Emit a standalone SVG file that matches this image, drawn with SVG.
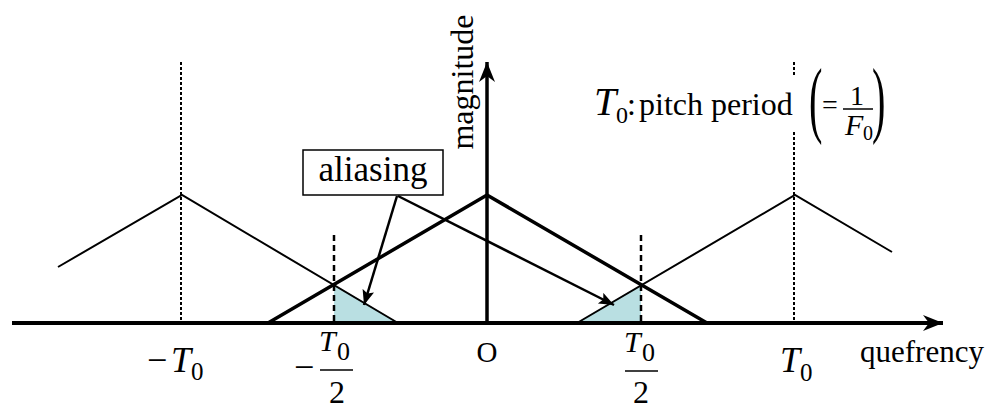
<svg xmlns="http://www.w3.org/2000/svg" width="990" height="408" viewBox="0 0 990 408">
<style>
.thin{fill:none;stroke:#000;stroke-width:2}
.thick{fill:none;stroke:#000;stroke-width:3.5}
.dot{stroke:#000;stroke-width:2;stroke-dasharray:3 2}
.dash{stroke:#000;stroke-width:2.5;stroke-dasharray:6 4}
.shade{fill:#b9dfe2}
.t{font-family:"Liberation Serif","Times New Roman",serif;fill:#000}
.i{font-style:italic}
.ptr{stroke:#000;stroke-width:2.5;fill:none}
</style>
<defs>
<marker id="ax" markerUnits="userSpaceOnUse" markerWidth="24" markerHeight="20" refX="20" refY="8" orient="auto">
<path d="M0,0 L20,8 L0,16 L6,8 Z" fill="#000"/>
</marker>
<marker id="ah" markerUnits="userSpaceOnUse" markerWidth="18" markerHeight="14" refX="15" refY="6" orient="auto">
<path d="M0,0 L15,6 L0,12 L3,6 Z" fill="#000"/>
</marker>
</defs>
<rect width="990" height="408" fill="#fff"/>

<g id="aliasing-regions">
<polygon class="shade" points="334,285 398,323 334,323"/>
<polygon class="shade" points="641,285 577,323 641,323"/>
</g>

<g id="guides">
<line class="dot" x1="181" y1="62" x2="181" y2="323"/>
<line class="dot" x1="794" y1="62" x2="794" y2="323"/>
<line class="dash" x1="334" y1="235" x2="334" y2="323"/>
<line class="dash" x1="641" y1="235" x2="641" y2="323"/>
</g>

<g id="spectrum-left">
<polyline class="thin" points="58,267 182,195 398,323"/>
</g>
<g id="spectrum-center">
<polyline class="thick" points="268,323 487,195 707,323"/>
</g>
<g id="spectrum-right">
<polyline class="thin" points="577,323 795,195 892,252"/>
</g>

<g id="axes">
<line x1="12" y1="323" x2="943" y2="323" stroke="#000" stroke-width="4" marker-end="url(#ax)"/>
<line x1="487" y1="323" x2="487" y2="62" stroke="#000" stroke-width="3.5" marker-end="url(#ax)"/>
<text class="t" font-size="32" transform="translate(473,82) rotate(-90)" text-anchor="middle">magnitude</text>
<text class="t" font-size="31" x="860" y="362">quefrency</text>
<text class="t" font-size="29" x="487" y="362" text-anchor="middle">O</text>
</g>

<g id="label-minus-T0">
<text class="t" font-size="36" x="147" y="372">−</text>
<text class="t i" font-size="36" x="171" y="372">T</text>
<text class="t" font-size="25" x="191" y="380">0</text>
</g>
<g id="label-minus-half-T0">
<text class="t" font-size="36" x="294" y="379">−</text>
<text class="t i" font-size="30" x="319" y="351">T</text>
<text class="t" font-size="26" x="337" y="360">0</text>
<line x1="320" y1="370" x2="353" y2="370" stroke="#000" stroke-width="1.6"/>
<text class="t" font-size="32" x="337" y="403" text-anchor="middle">2</text>
</g>
<g id="label-half-T0">
<text class="t i" font-size="30" x="624" y="352">T</text>
<text class="t" font-size="26" x="642" y="361">0</text>
<line x1="625" y1="371" x2="658" y2="371" stroke="#000" stroke-width="1.6"/>
<text class="t" font-size="32" x="641" y="403" text-anchor="middle">2</text>
</g>
<g id="label-T0">
<text class="t i" font-size="36" x="780" y="372">T</text>
<text class="t" font-size="25" x="800" y="381">0</text>
</g>

<g id="legend">
<rect x="588" y="77" width="310" height="54" fill="#fff"/>
<text class="t i" font-size="40" x="594" y="115">T</text>
<text class="t" font-size="24" x="616" y="123">0</text>
<text class="t" font-size="32" x="627" y="115">:</text>
<text class="t" font-size="32" x="639" y="115">pitch period</text>
<text class="t" font-size="84" transform="translate(809,127) scale(0.48,1)">(</text>
<text class="t" font-size="28" x="822" y="114">=</text>
<text class="t" font-size="28" x="857" y="105" text-anchor="middle">1</text>
<line x1="843" y1="109" x2="873" y2="109" stroke="#000" stroke-width="1.5"/>
<text class="t i" font-size="30" x="845" y="135">F</text>
<text class="t" font-size="20" x="863" y="140">0</text>
<text class="t" font-size="84" transform="translate(872,127) scale(0.48,1)">)</text>
</g>

<g id="aliasing-box">
<rect x="303" y="150" width="140" height="45" fill="#fff" stroke="#000" stroke-width="1.5"/>
<text class="t" font-size="35" x="373" y="181" text-anchor="middle">aliasing</text>
</g>

<g id="connectors">
<line class="ptr" x1="397" y1="196" x2="364" y2="305" marker-end="url(#ah)"/>
<line class="ptr" x1="398" y1="196" x2="614" y2="305" marker-end="url(#ah)"/>
</g>
</svg>
